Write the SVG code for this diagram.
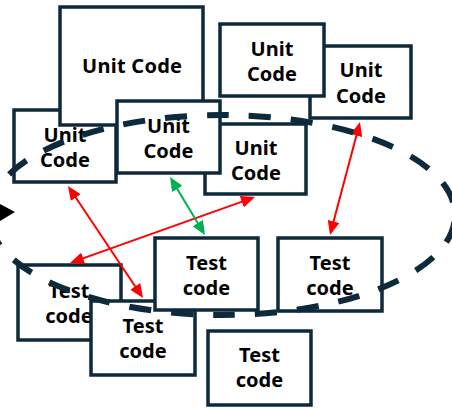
<svg xmlns="http://www.w3.org/2000/svg" width="452" height="410" viewBox="0 0 452 410">
  <style>
    .box rect { fill: #ffffff; stroke: #0c2a3c; stroke-width: 3.5; }
    .box text { font-family: "Noto Sans", "Open Sans", sans-serif; font-weight: 700; font-size: 20px; fill: #000000; text-anchor: middle; }
    .link { stroke-width: 2; fill: none; }
    .red { stroke: #ff0000; }
    .green { stroke: #00b050; }
    .loop { fill: none; stroke: #0c2a3c; stroke-width: 6; stroke-dasharray: 22 20; stroke-dashoffset: 37.2; }
  </style>
  <defs>
    <marker id="headRed" markerUnits="userSpaceOnUse" markerWidth="14" markerHeight="12" refX="4" refY="6" orient="auto-start-reverse">
      <path d="M0,0 L14,6 L0,12 Z" fill="#ff0000"/>
    </marker>
    <marker id="headGreen" markerUnits="userSpaceOnUse" markerWidth="14" markerHeight="12" refX="4" refY="6" orient="auto-start-reverse">
      <path d="M0,0 L14,6 L0,12 Z" fill="#00b050"/>
    </marker>
  </defs>

  <!-- unit code blocks -->
  <g id="unitA" class="box">
    <rect x="14" y="110" width="102" height="72"/>
    <text x="65" y="142">Unit</text>
    <text x="65" y="167">Code</text>
  </g>
  <g id="unitB" class="box">
    <rect x="60" y="7" width="143" height="118"/>
    <text x="132" y="73" textLength="100">Unit Code</text>
  </g>
  <g id="unitE" class="box">
    <rect x="310" y="46" width="101" height="72"/>
    <text x="361" y="77">Unit</text>
    <text x="361" y="103">Code</text>
  </g>
  <g id="unitD" class="box">
    <rect x="220" y="24" width="104" height="72"/>
    <text x="272" y="56">Unit</text>
    <text x="272" y="81">Code</text>
  </g>
  <g id="unitF" class="box">
    <rect x="205" y="124" width="101" height="70"/>
    <text x="256" y="155">Unit</text>
    <text x="256" y="180">Code</text>
  </g>
  <g id="unitC" class="box">
    <rect x="117" y="101" width="103" height="72"/>
    <text x="168.5" y="133">Unit</text>
    <text x="168.5" y="158">Code</text>
  </g>

  <!-- test code blocks -->
  <g id="testG" class="box">
    <rect x="18" y="265" width="103" height="75"/>
    <text x="69" y="298">Test</text>
    <text x="69" y="323">code</text>
  </g>
  <g id="testH" class="box">
    <rect x="91" y="301" width="104" height="74"/>
    <text x="143" y="333">Test</text>
    <text x="143" y="358">code</text>
  </g>
  <g id="testI" class="box">
    <rect x="155" y="238" width="103" height="72"/>
    <text x="206.5" y="270">Test</text>
    <text x="206.5" y="295">code</text>
  </g>
  <g id="testJ" class="box">
    <rect x="278" y="238" width="104" height="73"/>
    <text x="330" y="270">Test</text>
    <text x="330" y="295">code</text>
  </g>
  <g id="testK" class="box">
    <rect x="208" y="331" width="103" height="74"/>
    <text x="259.5" y="362">Test</text>
    <text x="259.5" y="387">code</text>
  </g>

  <!-- two-way links between units and tests -->
  <g id="connectors">
    <line class="link red" x1="73.56" y1="194.31" x2="137.44" y2="289.69" marker-start="url(#headRed)" marker-end="url(#headRed)"/>
    <line class="link red" x1="245.6" y1="200.4" x2="79.4" y2="259.6" marker-start="url(#headRed)" marker-end="url(#headRed)"/>
    <line class="link red" x1="357.43" y1="131.67" x2="332.57" y2="225.33" marker-start="url(#headRed)" marker-end="url(#headRed)"/>
    <line class="link green" x1="175.17" y1="185.56" x2="199.83" y2="226.44" marker-start="url(#headGreen)" marker-end="url(#headGreen)"/>
  </g>

  <!-- dashed cycle around the middle, drawn clockwise from its left end -->
  <g id="cycle">
    <path class="loop" d="M-11,215 A233,100 0 0 1 455,215 A233,100 0 0 1 -11,215 Z"/>
    <polygon points="0,204 15,212 0,221" fill="#000000"/>
  </g>
</svg>
